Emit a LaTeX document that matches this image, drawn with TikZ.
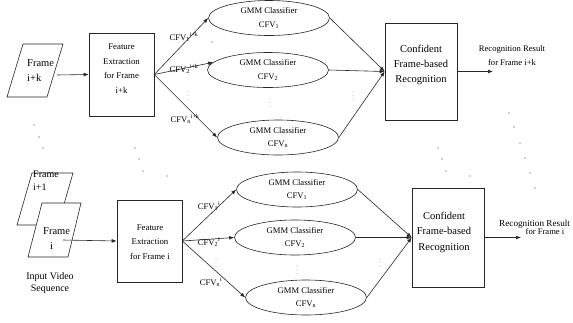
\documentclass[tikz,border=0pt]{standalone}
\usepackage{fontspec}
\setmainfont{Liberation Serif}
\usetikzlibrary{shapes.geometric,arrows.meta}
\begin{document}
\begin{tikzpicture}[x=1pt,y=-1pt,
  ln/.style={draw=black!85, line width=0.6pt},
  arr/.style={ln, -{Latex[length=5pt,width=3.8pt]}},
  box/.style={ln, rectangle, inner sep=0pt, fill=white},
  gmm/.style={ln, ellipse, minimum width=121pt, minimum height=35pt, inner sep=0pt, align=center, font=\fontsize{8.6}{13.5}\selectfont},
  txt/.style={inner sep=0pt, align=center},
  lbl/.style={inner sep=0pt, font=\fontsize{8.6}{10}\selectfont},
  vd/.style={inner sep=0pt, text=black!60, font=\fontsize{6}{6}\selectfont},
  dot/.style={fill=black!80}
]
\useasboundingbox (0,0) rectangle (573,322);

% ---------------- top row ----------------
\draw[ln] (23,44) -- (63,44) -- (47,97) -- (7,97) -- cycle;
\node[txt, align=left, anchor=west, font=\fontsize{10.5}{15}\selectfont] (fkt) at (27,70.5) {Frame\\i+k};
\coordinate (fks) at (57,75);

\node[box, minimum width=65pt, minimum height=83pt] (ft) at (121.5,74.5) {};
\node[txt, font=\fontsize{8.8}{14.5}\selectfont] (ftt) at (121.5,68.5) {Feature\\Extraction\\for Frame\\i+k};

\node[gmm] (e1) at (269,18) {GMM Classifier\\CFV\textsubscript{1}};
\node[gmm] (e2) at (268,70) {GMM Classifier\\CFV\textsubscript{2}};
\node[gmm] (e3) at (278,137.5) {GMM Classifier\\CFV\textsubscript{n}};

\node[box, minimum width=72pt, minimum height=97pt] (cf) at (421,71.5) {};
\node[txt, font=\fontsize{10.5}{15}\selectfont] (cft) at (421,64.5) {Confident\\Frame-based\\Recognition};

\coordinate (rk) at (493,71.5);
\node[txt, font=\fontsize{8.6}{14}\selectfont] (rkt) at (512,56) {Recognition Result\\for Frame i+k};

\draw[arr] (fks) -- (ft.west);
\draw[arr] (ft.east) -- (e1.west);
\draw[arr] (ft.east) -- (e2.172);
\draw[arr] (ft.east) -- (e3.west);
\draw[arr] (e1.east) -- (cf.west);
\draw[arr] (e2.east) -- (cf.west);
\draw[arr] (e3.east) -- (cf.west);
\draw[arr] (cf.east) -- (rk);

\node[lbl] (l1) at (184,37) {CFV\textsubscript{1}\textsuperscript{i+k}};
\node[lbl] (l2) at (184,69) {CFV\textsubscript{2}\textsuperscript{i+k}};
\node[lbl] (l3) at (185,119) {CFV\textsubscript{n}\textsuperscript{i+k}};

\node[vd] (v1) at (188,93) {$\vdots$};
\node[vd] (v2) at (270,100) {$\vdots$};
\node[vd] (v3) at (353,93) {$\vdots$};

% ---------------- bottom row ----------------
\draw[ln, fill=white] (32,173) -- (73,173) -- (58,225) -- (17,225) -- cycle;
\node[txt, align=left, anchor=north west, font=\fontsize{10}{13}\selectfont] (f1t) at (33,171) {Frame\\i+1};
\draw[ln, fill=white] (42,203) -- (81,203) -- (68,257) -- (28,257) -- cycle;
\node[txt, align=left, anchor=west, font=\fontsize{10.5}{15}\selectfont] (f0t) at (43,238.5) {Frame\\\hspace*{7pt}i};
\coordinate (f0s) at (63,240);

\node[txt, font=\fontsize{10}{12}\selectfont] (ivs) at (50,283) {Input Video\\Sequence};

\node[box, minimum width=65pt, minimum height=82pt] (fb) at (149.5,241) {};
\node[txt, font=\fontsize{8.8}{14.5}\selectfont] (fbt) at (150,242) {Feature\\Extraction\\for Frame i};

\node[gmm] (b1) at (297,189.5) {GMM Classifier\\CFV\textsubscript{1}};
\node[gmm] (b2) at (295,237.5) {GMM Classifier\\CFV\textsubscript{2}};
\node[gmm] (b3) at (306,297.5) {GMM Classifier\\CFV\textsubscript{n}};

\node[box, minimum width=72pt, minimum height=99pt] (cb) at (448,237.5) {};
\node[txt, font=\fontsize{10.5}{15.5}\selectfont] (cbt) at (444,232) {Confident\\Frame-based\\Recognition};

\coordinate (r0) at (521,237.5);
\node[txt, anchor=west, font=\fontsize{9.2}{9}\selectfont] (r0a) at (499,224) {Recognition Result};
\node[txt, font=\fontsize{8.6}{9}\selectfont] (r0b) at (545,232) {for Frame i};

\draw[arr] (f0s) -- (fb.west);
\draw[arr] (fb.east) -- (b1.west);
\draw[arr] (fb.east) -- (b2.west);
\draw[arr] (fb.east) -- (b3.west);
\draw[arr] (b1.east) -- (cb.west);
\draw[arr] (b2.east) -- (cb.west);
\draw[arr] (b3.east) -- (cb.west);
\draw[arr] (cb.east) -- (r0);

\node[lbl] (m1) at (209,206) {CFV\textsubscript{1}\textsuperscript{i}};
\node[lbl] (m2) at (209,242) {CFV\textsubscript{2}\textsuperscript{i}};
\node[lbl] (m3) at (211,282) {CFV\textsubscript{n}\textsuperscript{i}};

\node[vd] (w1) at (216,260) {$\vdots$};
\node[vd] (w2) at (297,267) {$\vdots$};
\node[vd] (w3) at (380,260) {$\vdots$};

% ---------------- scattered ellipsis dots ----------------
\foreach \p in {(34,125),(39,137),(43,148),
                (135,148),(139,159),(143,171),(167,176),
                (438,148),(442,159),(446,171),(470,176),
                (509,113),(514,127),(520,143),(525,158),(530,173),(535,188),
                (212,42)}
  \fill[dot] \p circle (0.65pt);
\end{tikzpicture}
\end{document}
